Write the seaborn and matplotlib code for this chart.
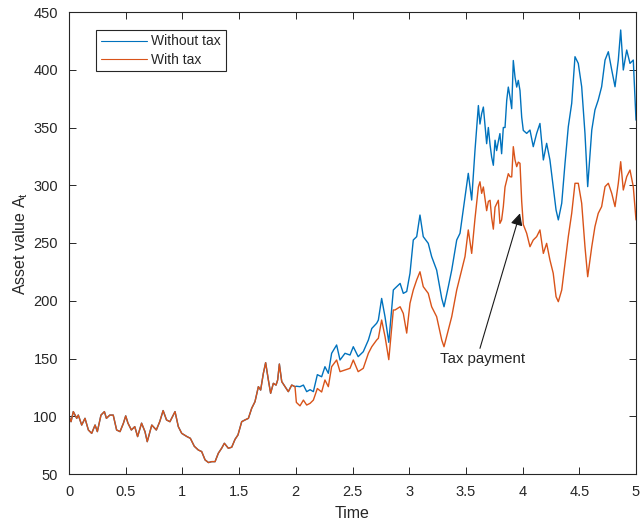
import seaborn as sns
import pandas as pd
import matplotlib.pyplot as plt
from matplotlib.ticker import FormatStrFormatter

sns.set_theme(style="ticks")
plt.rcParams['font.family'] = ['Liberation Sans', 'DejaVu Sans']

# values
# before the first tax payment (t < 2) both paths coincide
time_early = [0.000, 0.018, 0.038, 0.068, 0.082, 0.112, 0.141, 0.171, 0.200, 0.230,
              0.250, 0.282, 0.312, 0.330, 0.360, 0.390, 0.420, 0.450, 0.480, 0.500,
              0.520, 0.550, 0.580, 0.605, 0.640, 0.670, 0.690, 0.730, 0.770, 0.800,
              0.830, 0.860, 0.890, 0.935, 0.964, 0.994, 1.040, 1.070, 1.105, 1.140,
              1.170, 1.200, 1.230, 1.258, 1.288, 1.317, 1.346, 1.370, 1.405, 1.435,
              1.464, 1.490, 1.523, 1.552, 1.582, 1.611, 1.640, 1.670, 1.690, 1.714,
              1.734, 1.758, 1.778, 1.802, 1.826, 1.840, 1.855, 1.876, 1.905, 1.934,
              1.964, 1.993]
value_early = [100, 95.3, 104, 98.2, 101, 92.4, 98.2, 88.1, 85.2, 92.4,
               86.7, 101, 104, 98.2, 101, 101, 88.1, 86.7, 94, 100.3,
               94, 88.1, 91, 82.4, 94, 86.7, 78, 92.4, 88.1, 95.3,
               104.9, 96.8, 95.3, 104, 91, 85.2, 82.4, 80.9, 74, 70.8,
               69.4, 62.2, 59.9, 60.7, 60.7, 68, 72.3, 76.6, 72.3, 73.2,
               80, 83.8, 95.3, 96.8, 98.2, 106.9, 112.6, 125.6, 122.7, 137.2,
               146.4, 131.4, 119.9, 128.5, 127, 131.4, 145.2, 130, 125.6, 121.3,
               127, 125.6]

time_late = [2.005, 2.037, 2.067, 2.096, 2.126, 2.155, 2.190, 2.228, 2.257, 2.287,
             2.316, 2.360, 2.390, 2.434, 2.478, 2.507, 2.550, 2.595, 2.640, 2.670,
             2.713, 2.728, 2.757, 2.787, 2.820, 2.860, 2.875, 2.920, 2.948, 2.978,
             3.007, 3.036, 3.066, 3.095, 3.124, 3.168, 3.198, 3.242, 3.287, 3.307,
             3.345, 3.375, 3.419, 3.448, 3.492, 3.521, 3.551, 3.580, 3.610, 3.624,
             3.639, 3.654, 3.683, 3.698, 3.713, 3.727, 3.742, 3.757, 3.771, 3.786,
             3.800, 3.815, 3.830, 3.845, 3.860, 3.874, 3.889, 3.904, 3.918, 3.933,
             3.948, 3.962, 3.977, 3.992, 4.006, 4.036, 4.065, 4.094, 4.124, 4.153,
             4.183, 4.212, 4.241, 4.270, 4.295, 4.315, 4.345, 4.374, 4.403, 4.433,
             4.462, 4.491, 4.521, 4.550, 4.574, 4.610, 4.638, 4.667, 4.697, 4.727,
             4.756, 4.786, 4.815, 4.844, 4.865, 4.888, 4.918, 4.947, 4.976, 5.000]
without_tax_late = [126, 125.6, 127, 121.3, 123, 121.3, 136, 134.2, 142.9, 137.2,
                    154.5, 161.7, 148.7, 154.5, 153, 160.2, 151.6, 155.9, 166, 176,
                    180.5, 183.3, 202, 186, 164, 209.3, 210.8, 215, 206.4, 208,
                    223.8, 252.6, 255.5, 274.2, 255.5, 249.7, 238.2, 226.6, 202, 194.8,
                    212.2, 226.6, 252.6, 258.4, 290, 310.3, 287.2, 330, 369, 353,
                    362, 367.7, 336, 350, 335, 324.5, 317.3, 339, 330, 338,
                    344.7, 327.3, 350, 350, 373.5, 385, 376.4, 366.3, 408, 393.7,
                    385, 390.8, 382, 359, 347.5, 344.9, 347.8, 333.4, 344.9, 353.5,
                    321.9, 336.3, 321.9, 298.8, 278.6, 270, 284.4, 319, 350.7, 370.9,
                    411.3, 405.5, 385.3, 344.9, 298.8, 347.8, 365.2, 373.8, 385.3, 408.4,
                    415.6, 399.8, 385.3, 408.4, 434.4, 399.8, 417.1, 405.5, 408.4, 356.4]
with_tax_late = [112, 109, 114, 109.7, 111.2, 114, 124, 121, 131.4, 125.6,
                 142.9, 148.7, 138.6, 140, 141.5, 148.7, 138.6, 141.5, 154.5, 160.2,
                 166, 167.5, 183.3, 168.9, 149, 192, 192, 194.8, 189, 172,
                 197.8, 209.3, 218, 225.1, 212.2, 206.4, 194.8, 186.2, 166, 160.2,
                 174.7, 186.2, 209.3, 220.8, 238.2, 261.3, 241, 271, 298.5, 303,
                 293, 298.5, 278, 286, 287, 272, 262, 281, 284, 287,
                 267, 270, 281.5, 298.5, 304.6, 310, 307.4, 307.2, 333.4, 322,
                 316.1, 320, 319, 286, 266, 258.4, 246.8, 252.6, 255.5, 261.3,
                 241, 249.7, 235.3, 223.8, 203.5, 199.2, 209.3, 232.4, 255.5, 275.7,
                 301.7, 301.7, 284.4, 246.8, 220.8, 246.8, 264.2, 275.7, 281.5, 298.8,
                 301.7, 293, 281.5, 301.7, 320.4, 295.9, 307.4, 313.2, 298.8, 270]

time = time_early + time_late
without_tax = value_early + without_tax_late
with_tax = value_early + with_tax_late

df = pd.DataFrame({
    "Time": time * 2,
    "Asset": without_tax + with_tax,
    "Series": ["Without tax"] * len(time) + ["With tax"] * len(time),
})

fig = plt.figure(figsize=(6.44, 5.21), dpi=100)
ax = fig.add_axes([69 / 644, 47 / 521, 567 / 644, 462 / 521])
sns.lineplot(data=df, x="Time", y="Asset", hue="Series",
             hue_order=["Without tax", "With tax"],
             palette={"Without tax": "#0072BD", "With tax": "#D95319"},
             estimator=None, sort=False, linewidth=1.0, ax=ax)

ax.set_xlim(0, 5)
ax.set_ylim(50, 450)
ax.set_xticks([0, 0.5, 1, 1.5, 2, 2.5, 3, 3.5, 4, 4.5, 5])
ax.set_yticks(range(50, 451, 50))
ax.xaxis.set_major_formatter(FormatStrFormatter('%g'))
ax.tick_params(direction='in', top=True, right=True, length=5, width=0.7,
               colors='#262626', labelsize=10.5, pad=8)
for s in ax.spines.values():
    s.set_color('#262626')
    s.set_linewidth(0.8)
ax.set_xlabel("Time", fontsize=11.5, color='#262626', labelpad=5)
ax.set_ylabel(r"Asset value A$_\mathregular{t}$", fontsize=11.5, color='#262626', labelpad=2)

leg = ax.legend(loc='upper left', bbox_to_anchor=(0.048, 0.962), fancybox=False,
                edgecolor='#262626', framealpha=1, fontsize=10, handlelength=3.3,
                borderaxespad=0, borderpad=0.35, labelspacing=0.3, handletextpad=0.3)
leg.get_frame().set_linewidth(0.8)
for line in leg.get_lines():
    line.set_linewidth(0.8)

ax.annotate('', xy=(3.977, 275.7), xytext=(3.624, 158.8),
            arrowprops=dict(arrowstyle='-|>', color='k', lw=0.8,
                            mutation_scale=18, shrinkA=0, shrinkB=0))
ax.text(3.65, 149.6, "Tax payment", ha='center', va='center', fontsize=10.8)

fig.savefig("out.png", dpi=100)
